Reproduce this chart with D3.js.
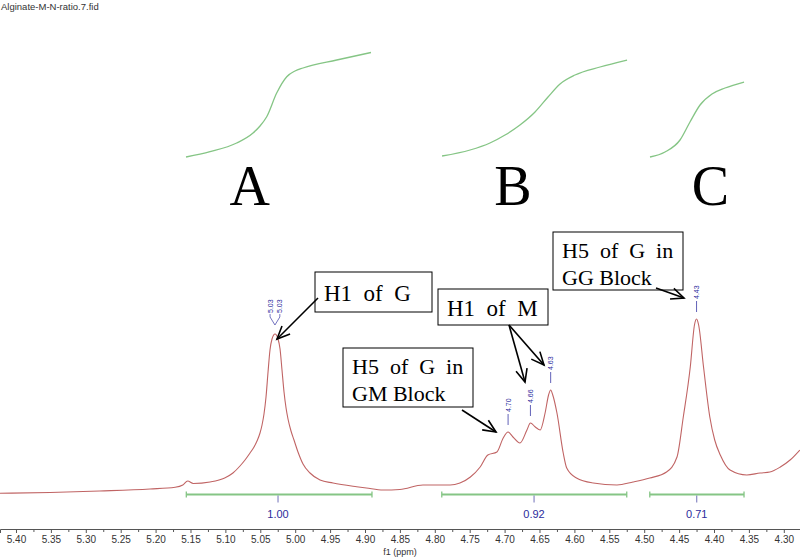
<!DOCTYPE html>
<html>
<head>
<meta charset="utf-8">
<script src="https://cdn.jsdelivr.net/npm/d3@7"></script>
<style>
  html, body { margin: 0; padding: 0; background: #fff; }
  svg { display: block; }
</style>
</head>
<body>
<svg id="chart" width="800" height="557"></svg>
<script>
// ---------- DATA ----------
const title = "Alginate-M-N-ratio.7.fid";
const axisTitle = "f1 (ppm)";
const tickLabels = ["5.40","5.35","5.30","5.25","5.20","5.15","5.10","5.05","5.00","4.95","4.90","4.85","4.80","4.75","4.70","4.65","4.60","4.55","4.50","4.45","4.40","4.35","4.30"];

// spectrum: [ppm, intensity]
const spectrumPpm = [5.423,5.351,5.280,5.208,5.172,5.161,5.154,5.146,5.122,5.101,5.0892,5.0791,5.0719,5.0647,5.0590,5.0547,5.0504,5.0475,5.0447,5.0418,5.0389,5.0361,5.0332,5.0289,5.0246,5.0217,5.0189,5.0160,5.0131,5.0103,5.0060,5.0017,4.9960,4.9888,4.9788,4.9644,4.9458,4.912,4.898,4.874,4.850,4.817,4.778,4.764,4.749,4.735,4.724,4.711,4.702,4.695,4.688,4.678,4.668,4.663,4.656,4.649,4.642,4.637,4.634,4.631,4.625,4.616,4.611,4.597,4.573,4.539,4.516,4.492,4.468,4.453,4.444,4.434,4.428,4.425,4.422,4.415,4.406,4.399,4.391,4.377,4.353,4.334,4.320,4.305,4.291,4.277];
const spectrumInt = [1.7,2.5,4,6,7.7,10,14,11.5,13,17,22,29,35,42,48,54,62,70,81,98,123,145,156,161,156,146,125,103,87,76,64,55,43,31,22,15,12,8.3,7,5,5.5,10,10,12,18,28,40,43,57,63,58,52,65,72,68,65,82,100,105,100,82,42,27,17,12,10,13,17,23,38,78,128,170,176,170,128,78,55,40,25,20,22,23,28,35,45];

// integral curves: [ppm], [value]
const integralA_ppm = [5.1564,5.1220,5.0838,5.0604,5.0504,5.0408,5.0265,5.0121,5.0003,4.9888,4.9405,4.8914];
const integralA_val = [3,8.3,17,27,34,43.3,67,83.3,89,92,100,107.5];
const integralB_ppm = [4.7896,4.7495,4.7210,4.6994,4.6780,4.6564,4.6378,4.6206,4.5991,4.5633,4.5246];
const integralB_val = [4,10,17,25,35,48,63,76,85,93,100];
const integralC_ppm = [4.4917,4.4702,4.4487,4.4344,4.4200,4.4029,4.3842,4.3570];
const integralC_val = [3,8,20,38,55,66,72,78];

// integral ranges
const integralFrom = [5.156, 4.790, 4.492];
const integralTo = [4.890, 4.525, 4.357];
const integralCenter = [5.0246, 4.6578, 4.4247];
const integralValues = ["1.00", "0.92", "0.71"];
const regionLetters = ["A", "B", "C"];
const regionLetterPpm = [5.065, 4.688, 4.405];

// peak picks
const peakPpm = [5.029, 5.029, 4.695, 4.663, 4.634, 4.425];
const peakLabelPpm = [5.036, 5.022, 4.695, 4.663, 4.634, 4.425];
const peakText = ["5.03", "5.03", "4.70", "4.66", "4.63", "4.43"];

// ---------- SCALES ----------
const svg = d3.select("#chart");
const W = 800, H = 557;
const x = d3.scaleLinear().domain([5.4229, 4.2768]).range([0, W]);
const ySpec = d3.scaleLinear().domain([0, 180]).range([495, 315]);
const yInt = d3.scaleLinear().domain([0, 110]).range([160, 50]);

const specColor = "#c06464";
const intColor = "#85c585";
const blue = "#2b2b9c";

// title
svg.append("text").attr("x", 1).attr("y", 10)
  .attr("font-family", "Liberation Sans, Arial, sans-serif").attr("font-size", 9.5)
  .attr("fill", "#333").text(title);

// ---------- AXIS ----------
const majorVals = tickLabels.map(Number);
const minorVals = majorVals.slice(0, -1).map(v => +(v - 0.025).toFixed(3));
const axisY = 529;
const gAxis = svg.append("g").attr("transform", `translate(0,${axisY})`)
  .call(d3.axisBottom(x).tickValues(majorVals).tickFormat((d, i) => tickLabels[i]).tickSizeOuter(0).tickSize(4).tickPadding(3));
gAxis.select(".domain").attr("stroke", "#555");
gAxis.selectAll(".tick line").attr("stroke", "#555");
gAxis.selectAll(".tick text").attr("font-family", "Liberation Sans, Arial, sans-serif").attr("font-size", 10).attr("fill", "#333");
const gMinor = svg.append("g").attr("transform", `translate(0,${axisY})`)
  .call(d3.axisBottom(x).tickValues(minorVals).tickFormat("").tickSizeOuter(0).tickSize(3));
gMinor.select(".domain").remove();
gMinor.selectAll(".tick line").attr("stroke", "#555");
svg.append("text").attr("x", 400).attr("y", 555).attr("text-anchor", "middle")
  .attr("font-family", "Liberation Sans, Arial, sans-serif").attr("font-size", 9).attr("fill", "#333").text(axisTitle);

// ---------- SPECTRUM ----------
const spec = spectrumPpm.map((p, i) => [p, spectrumInt[i]]);
svg.append("path").datum(spec)
  .attr("fill", "none").attr("stroke", specColor).attr("stroke-width", 1.1)
  .attr("d", d3.line().x(d => x(d[0])).y(d => ySpec(d[1])).curve(d3.curveMonotoneX));

// ---------- INTEGRAL CURVES ----------
[[integralA_ppm, integralA_val], [integralB_ppm, integralB_val], [integralC_ppm, integralC_val]].forEach(([pp, vv]) => {
  const data = pp.map((p, i) => [p, vv[i]]);
  svg.append("path").datum(data)
    .attr("fill", "none").attr("stroke", intColor).attr("stroke-width", 1.3)
    .attr("d", d3.line().x(d => x(d[0])).y(d => yInt(d[1])).curve(d3.curveMonotoneX));
});

// region letters
svg.selectAll("text.letter").data(regionLetters).enter().append("text")
  .attr("class", "letter")
  .attr("x", (d, i) => x(regionLetterPpm[i])).attr("y", 205)
  .attr("text-anchor", "middle")
  .attr("font-family", "Liberation Serif, Times New Roman, serif").attr("font-size", 56)
  .attr("fill", "#000").text(d => d);

// ---------- INTEGRAL RANGES ----------
const intY = 494.5;
integralFrom.forEach((f, i) => {
  const g = svg.append("g");
  g.append("line").attr("x1", x(f)).attr("x2", x(integralTo[i])).attr("y1", intY).attr("y2", intY)
    .attr("stroke", intColor).attr("stroke-width", 2);
  [f, integralTo[i]].forEach(e => g.append("line").attr("x1", x(e)).attr("x2", x(e))
    .attr("y1", intY - 3).attr("y2", intY + 3).attr("stroke", intColor).attr("stroke-width", 1.3));
  g.append("line").attr("x1", x(integralCenter[i])).attr("x2", x(integralCenter[i]))
    .attr("y1", intY + 1).attr("y2", intY + 8).attr("stroke", "#7070b8").attr("stroke-width", 1);
  g.append("text").attr("x", x(integralCenter[i])).attr("y", 518).attr("text-anchor", "middle")
    .attr("font-family", "Liberation Sans, Arial, sans-serif").attr("font-size", 11)
    .attr("fill", blue).text(integralValues[i]);
});

// ---------- PEAK LABELS ----------
const specAt = p => {
  let best = spec[0];
  spec.forEach(d => { if (Math.abs(d[0] - p) < Math.abs(best[0] - p)) best = d; });
  return best[1];
};
peakText.forEach((t, i) => {
  const px = x(peakPpm[i]);
  const py = ySpec(specAt(peakPpm[i]));
  const lx = x(peakLabelPpm[i]);
  const g = svg.append("g");
  if (i < 2) {
    g.append("line").attr("x1", lx).attr("x2", lx).attr("y1", py - 20).attr("y2", py - 17)
      .attr("stroke", "#5050b0").attr("stroke-width", 0.8);
    g.append("line").attr("x1", lx).attr("x2", px).attr("y1", py - 17).attr("y2", py - 9)
      .attr("stroke", "#5050b0").attr("stroke-width", 0.8);
    g.append("text").attr("transform", `translate(${lx + 2.5},${py - 21}) rotate(-90)`)
      .attr("font-family", "Liberation Sans, Arial, sans-serif").attr("font-size", 7)
      .attr("fill", blue).text(t);
  } else {
    g.append("line").attr("x1", lx).attr("x2", lx).attr("y1", py - 18).attr("y2", py - 7)
      .attr("stroke", "#5050b0").attr("stroke-width", 0.9);
    g.append("text").attr("transform", `translate(${lx + 2.5},${py - 20}) rotate(-90)`)
      .attr("font-family", "Liberation Sans, Arial, sans-serif").attr("font-size", 7)
      .attr("fill", blue).text(t);
  }
});

// ---------- ANNOTATIONS ----------
const serif = "Liberation Serif, Times New Roman, serif";
const boxes = [
  { x: 315, y: 272, w: 117, h: 40, lines: ["H1  of  G"], ty: [301], fs: 23 },
  { x: 438, y: 289, w: 110, h: 36, lines: ["H1  of  M"], ty: [316], fs: 23 },
  { x: 343, y: 348, w: 130, h: 59, lines: ["H5  of  G  in", "GM Block"], ty: [374, 401], fs: 22 },
  { x: 553, y: 232, w: 130, h: 58, lines: ["H5  of  G  in", "GG Block"], ty: [258, 285], fs: 22 }
];
boxes.forEach(b => {
  svg.append("rect").attr("x", b.x).attr("y", b.y).attr("width", b.w).attr("height", b.h)
    .attr("fill", "#fff").attr("stroke", "#000").attr("stroke-width", 1);
  b.lines.forEach((l, i) => svg.append("text").attr("x", b.x + 9).attr("y", b.ty[i])
    .attr("font-family", serif).attr("font-size", b.fs).attr("fill", "#000")
    .style("white-space", "pre").text(l));
});
const arrows = [
  [318, 298, 277, 339],
  [509, 325, 525, 382],
  [509, 325, 544, 365],
  [462, 410, 496, 432],
  [656, 288, 684, 298]
];
arrows.forEach(([x1, y1, x2, y2]) => {
  svg.append("line").attr("x1", x1).attr("y1", y1).attr("x2", x2).attr("y2", y2)
    .attr("stroke", "#000").attr("stroke-width", 1.6);
  const a = Math.atan2(y2 - y1, x2 - x1);
  const L = 14, s = 0.42;
  const p1 = [x2 - L * Math.cos(a - s), y2 - L * Math.sin(a - s)];
  const p2 = [x2 - L * Math.cos(a + s), y2 - L * Math.sin(a + s)];
  svg.append("path").attr("d", `M${p1[0]},${p1[1]}L${x2},${y2}L${p2[0]},${p2[1]}`)
    .attr("fill", "none").attr("stroke", "#000").attr("stroke-width", 1.6);
});
</script>
</body>
</html>
